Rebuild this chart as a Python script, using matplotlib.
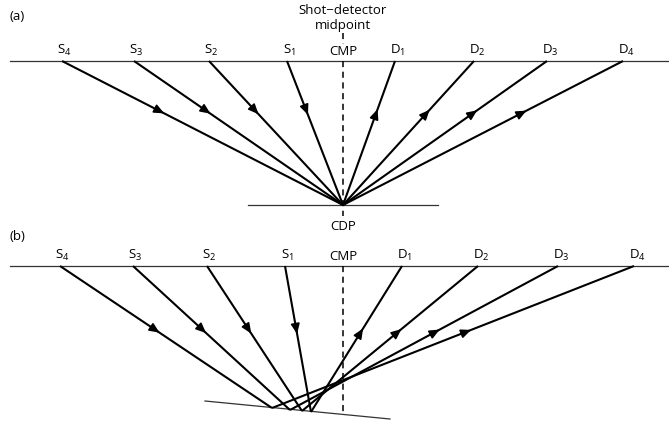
import numpy as np
import matplotlib.pyplot as plt

plt.rcParams['font.family'] = ['Open Sans', 'DejaVu Sans']

# posiciones (pixeles) de fuentes, detectores y puntos de reflexion
labels_s = ['1', '2', '3', '4']
src_a = [287, 209, 134, 62]
rec_a = [395, 474, 547, 623]
cdp_a = (343, 205)
surf_a = 61
arrow_a = 112

src_b = [285, 207, 133, 60]
rec_b = [402, 478, 558, 634]
refl_bx = [311, 302, 290, 272]
refl_by = [412, 411, 410, 408]
surf_b = 266
arrow_b = 331

cmp_x = 343
reflector_b = ([205, 390], [401, 419])

fig = plt.figure(figsize=(6.69, 4.24), dpi=100)
ax = fig.add_axes([0, 0, 1, 1])
ax.set_xlim(0, 669)
ax.set_ylim(424, 0)
ax.axis('off')

fs = 9.5


def ray(x0, y0, x1, y1, ya):
    ax.plot([x0, x1], [y0, y1], color='black', lw=1.5, solid_capstyle='butt')
    t = (ya - y0) / (y1 - y0)
    xa = x0 + t * (x1 - x0)
    dx, dy = x1 - x0, y1 - y0
    n = np.hypot(dx, dy)
    ux, uy = dx / n, dy / n
    ax.annotate('', xy=(xa + 3 * ux, ya + 3 * uy), xytext=(xa - 3 * ux, ya - 3 * uy),
                arrowprops=dict(arrowstyle='-|>,head_length=0.5,head_width=0.22',
                                color='black', lw=1.2, shrinkA=0, shrinkB=0,
                                mutation_scale=12))


def labels(srcs, recs, ys):
    for i, lab in enumerate(labels_s):
        ax.text(srcs[i] + 2, ys - 3, r'$\mathregular{S_{%s}}$' % lab, ha='center', va='bottom', fontsize=fs)
        ax.text(recs[i] + 3, ys - 3, r'$\mathregular{D_{%s}}$' % lab, ha='center', va='bottom', fontsize=fs)
    ax.text(cmp_x, ys - 3, 'CMP', ha='center', va='bottom', fontsize=fs)


# (a)
ax.plot([10, 669], [surf_a, surf_a], color='#333333', lw=0.9)
ax.plot([248, 438], [cdp_a[1], cdp_a[1]], color='#333333', lw=0.9)
ax.plot([cmp_x, cmp_x], [33, 44], color='black', lw=1.1, ls=(0, (4, 3)))
ax.plot([cmp_x, cmp_x], [surf_a, 216], color='black', lw=1.1, ls=(0, (4, 3)))
for s, r in zip(src_a, rec_a):
    ray(s, surf_a, cdp_a[0], cdp_a[1], arrow_a)
    ray(cdp_a[0], cdp_a[1], r, surf_a, arrow_a)
labels(src_a, rec_a, surf_a)
ax.text(10, 17, '(a)', ha='left', va='center', fontsize=fs)
ax.text(cmp_x, 11, 'Shot\u2212detector', ha='center', va='center', fontsize=fs)
ax.text(cmp_x, 25, 'midpoint', ha='center', va='center', fontsize=fs)
ax.text(cmp_x, 227, 'CDP', ha='center', va='center', fontsize=fs)

# (b)
ax.plot([10, 669], [surf_b, surf_b], color='#333333', lw=0.9)
ax.plot(reflector_b[0], reflector_b[1], color='#333333', lw=0.9)
ax.plot([cmp_x, cmp_x], [surf_b, 415], color='black', lw=1.1, ls=(0, (4, 3)))
for i in range(4):
    ray(src_b[i], surf_b, refl_bx[i], refl_by[i], arrow_b)
    ray(refl_bx[i], refl_by[i], rec_b[i], surf_b, arrow_b)
labels(src_b, rec_b, surf_b)
ax.text(10, 237, '(b)', ha='left', va='center', fontsize=fs)

fig.savefig('out.png', dpi=100)
